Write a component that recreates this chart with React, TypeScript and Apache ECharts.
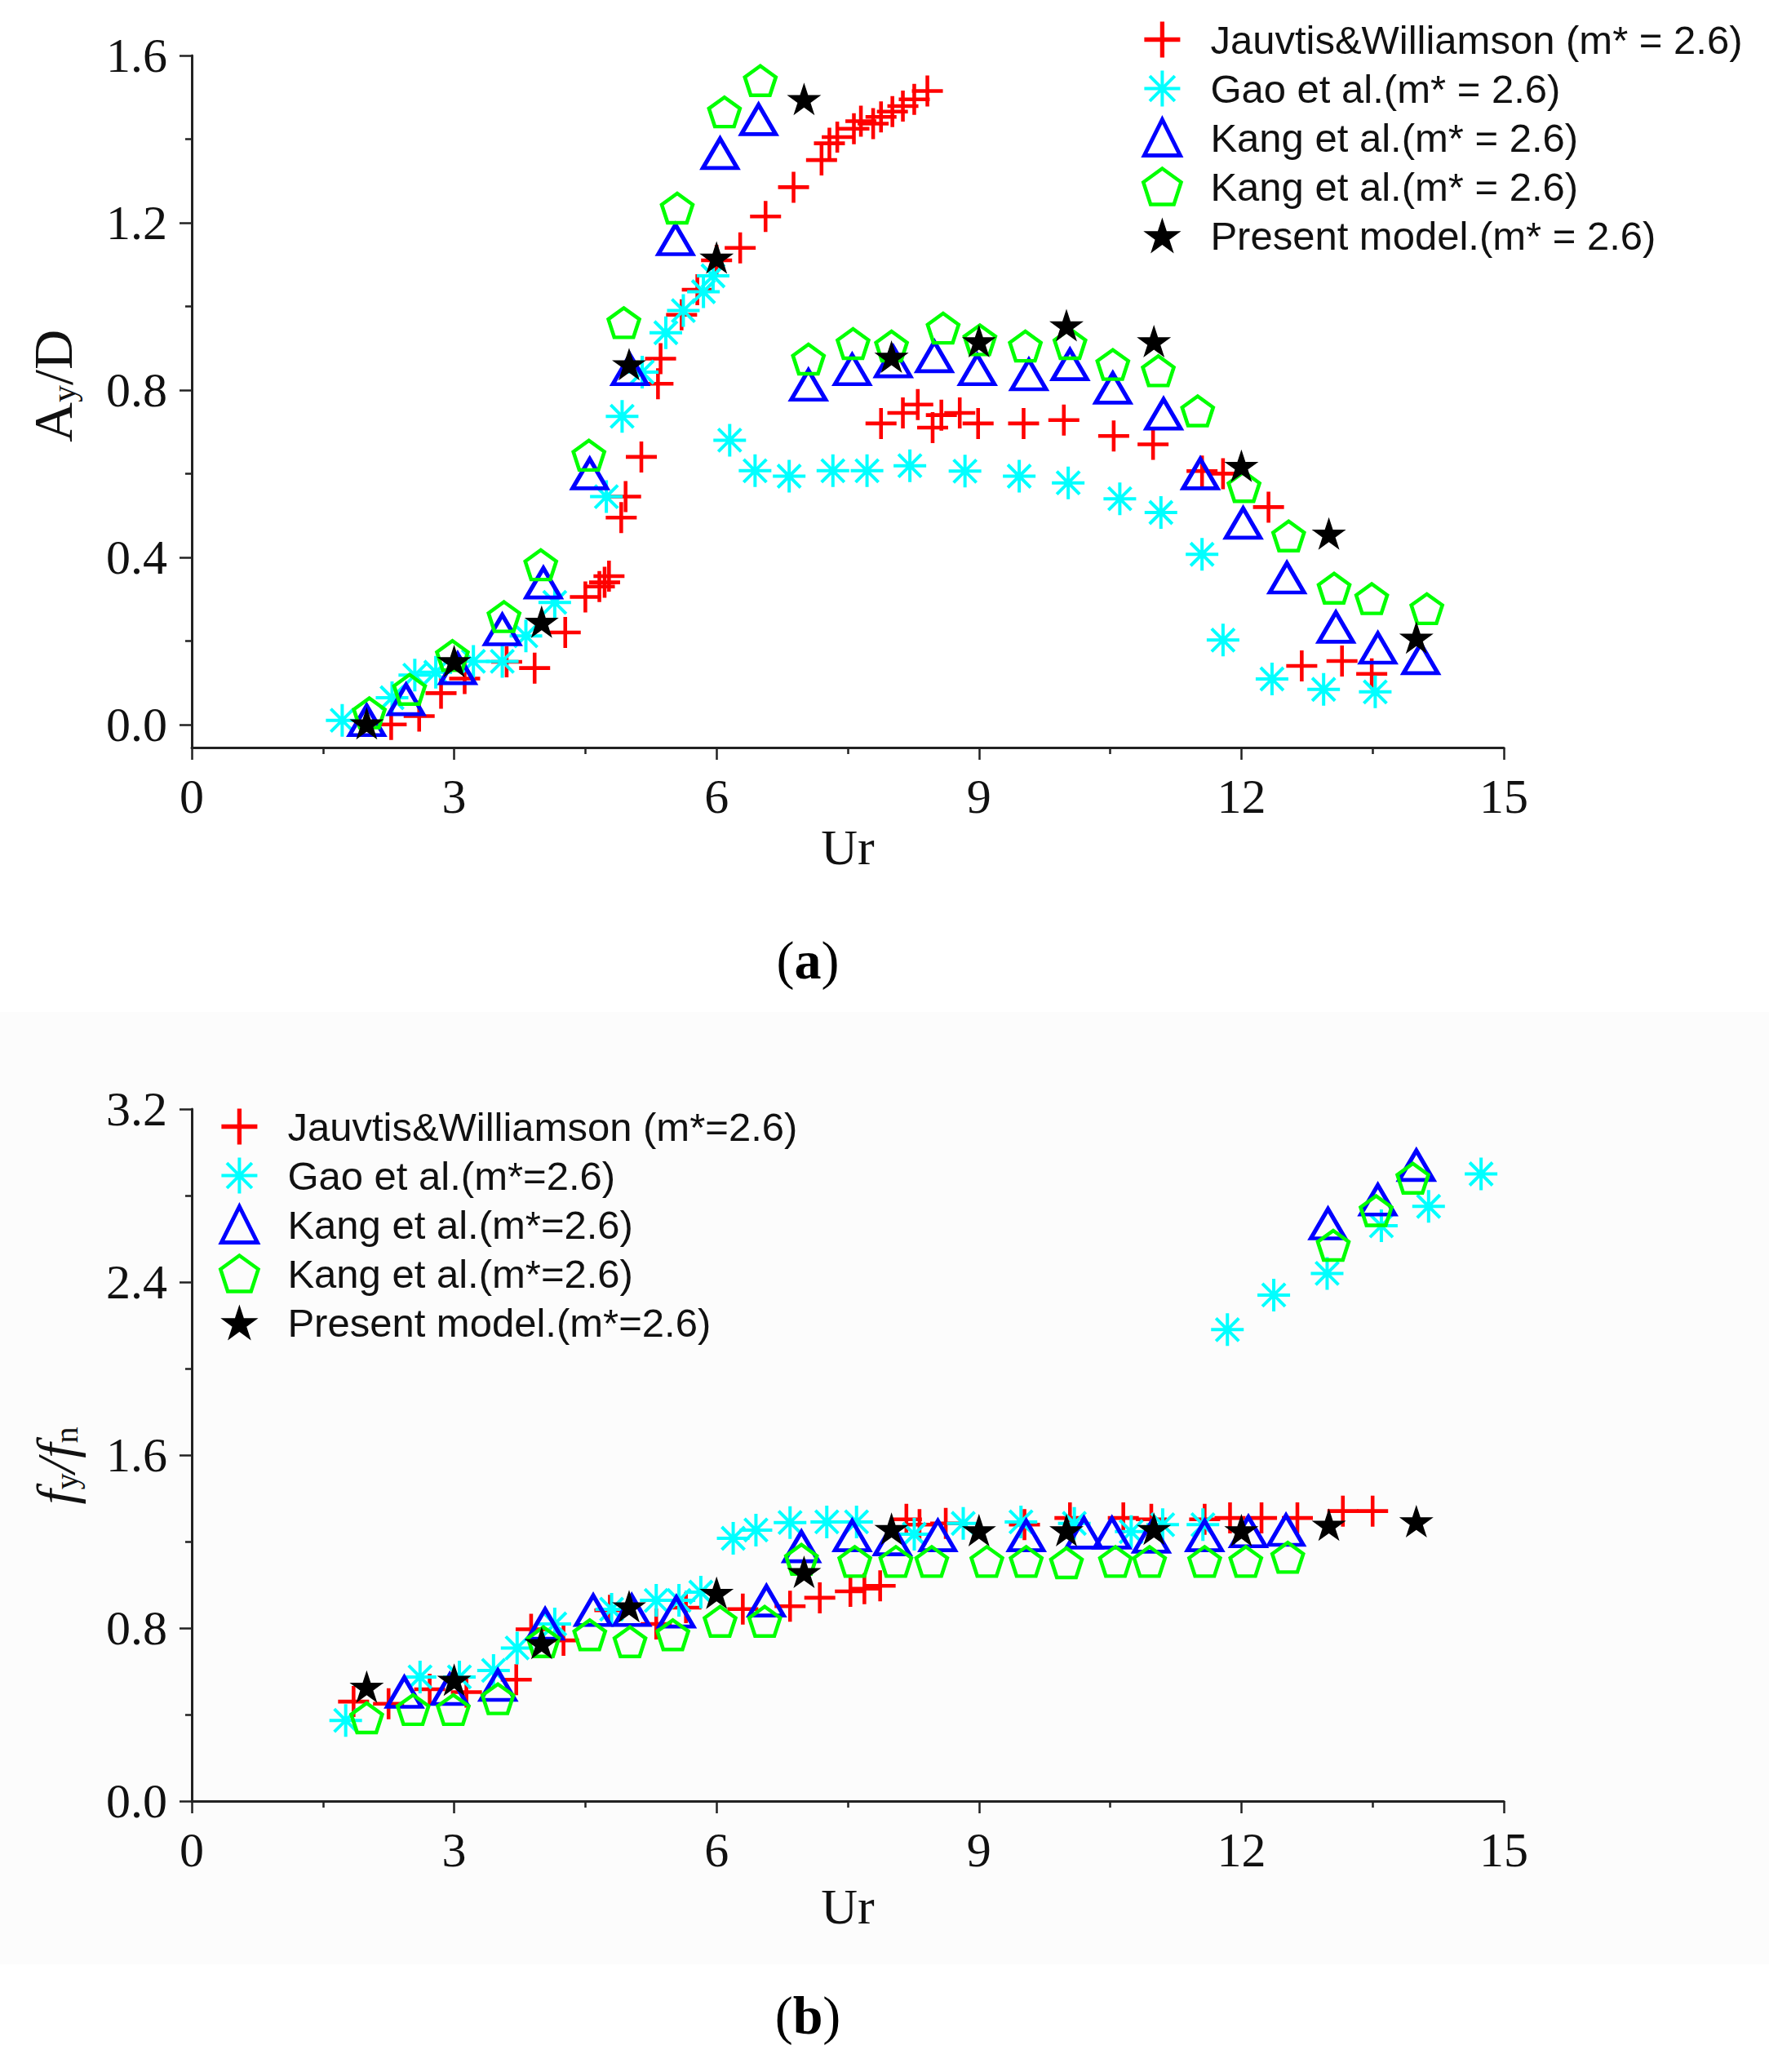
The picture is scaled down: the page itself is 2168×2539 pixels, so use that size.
import React, { useEffect, useRef } from 'react';
import * as echarts from 'echarts';

// ---- data ----
const ampLabels = [0, 0.4, 0.8, 1.2, 1.6];
const ampMinor = [0.2, 0.6, 1.0, 1.4];

const legendA = [
  'Jauvtis&Williamson (m* = 2.6)',
  'Gao et al.(m* = 2.6)',
  'Kang et al.(m* = 2.6)',
  'Kang et al.(m* = 2.6)',
  'Present model.(m* = 2.6)',
];
const legendB = [
  'Jauvtis&Williamson (m*=2.6)',
  'Gao et al.(m*=2.6)',
  'Kang et al.(m*=2.6)',
  'Kang et al.(m*=2.6)',
  'Present model.(m*=2.6)',
];

// (a) amplitude A_y/D vs Ur
const jwA = [
  [2.28, 0.0], [2.6, 0.02], [2.85, 0.075], [3.12, 0.11], [3.6, 0.15], [3.92, 0.135],
  [4.27, 0.22], [4.5, 0.305], [4.66, 0.33], [4.72, 0.34], [4.77, 0.355], [4.91, 0.495],
  [4.96, 0.545], [5.14, 0.64], [5.33, 0.815], [5.36, 0.875], [5.6, 0.98], [5.78, 1.04],
  [6.0, 1.11], [6.27, 1.14], [6.56, 1.215], [6.88, 1.285], [7.2, 1.35], [7.29, 1.39],
  [7.38, 1.405], [7.57, 1.425], [7.65, 1.443], [7.79, 1.437], [7.88, 1.453], [8.01, 1.466],
  [8.13, 1.479], [8.26, 1.495], [8.41, 1.515],
  [7.88, 0.72], [8.13, 0.745], [8.3, 0.765], [8.47, 0.71], [8.57, 0.74], [8.78, 0.745],
  [8.99, 0.72], [9.51, 0.72], [9.97, 0.728], [10.54, 0.69], [10.99, 0.67], [11.55, 0.606],
  [11.79, 0.6], [12.31, 0.52], [12.69, 0.14], [13.15, 0.152], [13.49, 0.121],
];
const gaoA = [
  [1.72, 0.01], [2.29, 0.064], [2.55, 0.118], [2.79, 0.125], [3.22, 0.151], [3.55, 0.151],
  [3.82, 0.212], [4.15, 0.292], [4.74, 0.545], [4.92, 0.737], [5.15, 0.843], [5.42, 0.937],
  [5.62, 0.99], [5.85, 1.035], [5.96, 1.073], [6.15, 0.68], [6.44, 0.607], [6.83, 0.594],
  [7.33, 0.607], [7.72, 0.607], [8.21, 0.619], [8.84, 0.606], [9.46, 0.594], [10.02, 0.578],
  [10.61, 0.54], [11.08, 0.507], [11.55, 0.407], [11.79, 0.202], [12.35, 0.109],
  [12.94, 0.084], [13.53, 0.078],
];
const kangTriA = [
  [2.0, 0.01], [2.45, 0.06], [3.04, 0.134], [3.55, 0.227], [4.02, 0.339], [4.55, 0.6],
  [5.01, 0.849], [5.53, 1.16], [6.04, 1.366], [6.48, 1.447], [7.05, 0.812], [7.55, 0.849],
  [8.02, 0.868], [8.49, 0.88], [8.98, 0.849], [9.57, 0.837], [10.04, 0.861], [10.53, 0.805],
  [11.11, 0.743], [11.53, 0.6], [12.02, 0.482], [12.52, 0.351], [13.08, 0.233],
  [13.56, 0.183], [14.05, 0.158],
];
const kangPentA = [
  [2.03, 0.028], [2.49, 0.084], [2.98, 0.165], [3.57, 0.258], [3.99, 0.382], [4.54, 0.644],
  [4.94, 0.961], [5.55, 1.235], [6.09, 1.465], [6.5, 1.54], [7.05, 0.874], [7.56, 0.911],
  [8.0, 0.905], [8.59, 0.948], [9.01, 0.92], [9.53, 0.905], [10.04, 0.911], [10.53, 0.861],
  [11.05, 0.846], [11.5, 0.75], [12.03, 0.569], [12.54, 0.451], [13.06, 0.326],
  [13.49, 0.301], [14.12, 0.277],
];
const presentA = [
  [2, 0.003], [3, 0.152], [4, 0.246], [5, 0.862], [6, 1.117], [7, 1.496], [8, 0.88],
  [9, 0.917], [10, 0.955], [11, 0.917], [12, 0.619], [13, 0.457], [14, 0.208],
];

// (b) frequency f_y/f_n vs Ur
const jwF = [
  [1.85, 0.46], [2.25, 0.45], [2.72, 0.517], [3.14, 0.504], [3.71, 0.561], [3.88, 0.794],
  [4.25, 0.743], [4.78, 0.882], [5.31, 0.819], [5.65, 0.894], [6.3, 0.888], [6.84, 0.901],
  [7.18, 0.94], [7.53, 0.97], [7.69, 0.982], [7.87, 0.995], [8.17, 1.303], [8.32, 1.278],
  [8.62, 1.284], [9.52, 1.278], [10.04, 1.309], [10.65, 1.309], [10.97, 1.303],
  [11.58, 1.303], [11.87, 1.309], [12.23, 1.309], [12.64, 1.309], [13.16, 1.341], [13.5, 1.341],
];
const gaoF = [
  [1.76, 0.373], [2.61, 0.574], [3.06, 0.574], [3.45, 0.604], [3.72, 0.708], [4.15, 0.819],
  [4.8, 0.887], [5.31, 0.928], [5.57, 0.928], [5.82, 0.966], [6.19, 1.215], [6.45, 1.253],
  [6.84, 1.288], [7.26, 1.291], [7.6, 1.291], [8.26, 1.234], [8.82, 1.284], [9.48, 1.291],
  [10.09, 1.284], [10.74, 1.246], [11.1, 1.278], [11.56, 1.278], [11.84, 2.18], [12.37, 2.34],
  [12.98, 2.44], [13.6, 2.66], [14.14, 2.75], [14.74, 2.9],
];
const kangTriF = [
  [2.43, 0.504], [2.95, 0.517], [3.5, 0.536], [4.04, 0.819], [4.59, 0.882], [5.03, 0.882],
  [5.54, 0.875], [6.57, 0.926], [6.97, 1.177], [7.55, 1.228], [8.01, 1.209], [8.53, 1.228],
  [9.54, 1.228], [10.2, 1.24], [10.52, 1.24], [10.97, 1.221], [11.58, 1.228], [12.08, 1.246],
  [12.51, 1.253], [12.99, 2.67], [13.56, 2.78], [14.0, 2.94],
];
const kangPentF = [
  [2.0, 0.385], [2.53, 0.423], [2.99, 0.423], [3.5, 0.473], [4.02, 0.737], [4.55, 0.769],
  [5.01, 0.737], [5.5, 0.769], [6.04, 0.831], [6.55, 0.831], [6.97, 1.118], [7.58, 1.108],
  [8.05, 1.108], [8.46, 1.108], [9.09, 1.108], [9.54, 1.108], [10.0, 1.102], [10.56, 1.108],
  [10.95, 1.108], [11.58, 1.108], [12.05, 1.108], [12.53, 1.127], [13.05, 2.57],
  [13.54, 2.73], [13.96, 2.88],
];
const presentF = [
  [2, 0.529], [3, 0.561], [4, 0.731], [5, 0.901], [6, 0.963], [7, 1.06], [8, 1.259],
  [9, 1.253], [10, 1.253], [11, 1.259], [12, 1.253], [13, 1.278], [14, 1.294],
];

// ---- styling ----
const SERIF = "'Liberation Serif', 'Times New Roman', serif";
const SANS = "'Liberation Sans', Arial, sans-serif";
const AXIS = '#222';

const PLUS = 'path://M0,0.44H1V0.56H0Z M0.44,0H0.56V1H0.44Z';
const AST = 'path://M0.5,0L0.5,1M0,0.5L1,0.5M0.15,0.15L0.85,0.85M0.85,0.15L0.15,0.85';
const TRI = 'path://M0,1L0.5,0L1,1Z';
const PENT = 'path://M0.5,0L0.976,0.345L0.794,0.905L0.206,0.905L0.024,0.345Z';
const STAR =
  'path://M1,0L1.2245,0.691L1.951,0.691L1.363,1.118L1.588,1.809L1,1.382L0.412,1.809L0.637,1.118L0.049,0.691L0.7755,0.691Z';

const marks = [
  { symbol: PLUS, size: [38, 38], style: { color: '#ff0000', borderWidth: 0, opacity: 1 } },
  { symbol: AST, size: [40, 40], style: { color: '#00ffff', borderColor: '#00ffff', borderWidth: 4, opacity: 1 } },
  { symbol: TRI, size: [42, 36], style: { color: 'rgba(0,0,0,0)', borderColor: '#0000ff', borderWidth: 5, opacity: 1 } },
  { symbol: PENT, size: [38, 36], style: { color: 'rgba(0,0,0,0)', borderColor: '#00ff00', borderWidth: 4.5, opacity: 1 } },
  { symbol: STAR, size: [42, 40], style: { color: '#000000', borderWidth: 0, opacity: 1 } },
];

const seriesA = [jwA, gaoA, kangTriA, kangPentA, presentA];
const seriesB = [jwF, gaoF, kangTriF, kangPentF, presentF];

const keysA = legendA.map((_, i) => 'a' + i);
const keysB = legendB.map((_, i) => 'b' + i);
const labelOf: Record<string, string> = {};
keysA.forEach((k, i) => (labelOf[k] = legendA[i]));
keysB.forEach((k, i) => (labelOf[k] = legendB[i]));

const tickLabel = { fontFamily: SERIF, fontSize: 60, color: '#111' };

const App: React.FC = () => {
  const chartRef = useRef<HTMLDivElement>(null);

  useEffect(() => {
    document.body.style.margin = '0';
    if (!chartRef.current) return;
    const chart = echarts.init(chartRef.current, null, { renderer: 'svg' });

    const makeSeries = (data: number[][][], keys: string[], grid: number) =>
      data.map((d, i) => ({
        name: keys[i],
        type: 'scatter',
        xAxisIndex: grid,
        yAxisIndex: grid === 0 ? 0 : 2,
        data: d,
        symbol: marks[i].symbol,
        symbolSize: marks[i].size,
        itemStyle: marks[i].style,
        silent: true,
        z: 3 + i,
      }));

    const makeLegend = (keys: string[], left: number, top: number) => ({
      orient: 'vertical',
      left,
      top,
      padding: 0,
      itemWidth: 96,
      itemHeight: 44,
      itemGap: 11,
      selectedMode: false,
      formatter: (name: string) => labelOf[name],
      textStyle: { fontFamily: SANS, fontSize: 49, color: '#111', lineHeight: 44, padding: [0, 0, 0, 6] },
      data: keys.map((k, i) => ({ name: k, icon: marks[i].symbol, itemStyle: marks[i].style })),
    });

    const xAxisBase = (grid: number, nameGap: number) => ({
      type: 'value',
      gridIndex: grid,
      min: 0,
      max: 15,
      interval: 3,
      name: 'Ur',
      nameLocation: 'middle',
      nameGap,
      nameTextStyle: { fontFamily: SERIF, fontSize: 62, color: '#111' },
      axisLine: { onZero: false, lineStyle: { color: AXIS, width: 3 } },
      axisTick: { length: 15, lineStyle: { color: AXIS, width: 2.5 } },
      minorTick: { show: true, splitNumber: 2, length: 8, lineStyle: { color: AXIS, width: 2.5 } },
      axisLabel: { ...tickLabel, margin: 30 },
      splitLine: { show: false },
    });

    const caption = (letter: string, y: number) => ({
      type: 'text',
      x: 990,
      y,
      style: {
        text: '({b|' + letter + '})',
        fontFamily: SERIF,
        fontSize: 66,
        fill: '#000',
        align: 'center',
        verticalAlign: 'middle',
        textAlign: 'center',
        textVerticalAlign: 'middle',
        rich: { b: { fontFamily: SERIF, fontSize: 66, fontWeight: 'bold' } },
      },
    });

    chart.setOption({
      animation: false,
      textStyle: { fontFamily: SERIF },
      graphic: [
        {
          type: 'rect',
          z: -1,
          shape: { x: 0, y: 1240, width: 2168, height: 1167 },
          style: { fill: '#fcfcfc' },
        },
        caption('a', 1176),
        caption('b', 2469),
      ],
      legend: [makeLegend(keysA, 1399, 24), makeLegend(keysB, 268, 1356)],
      grid: [
        { left: 235, top: 68, width: 1608, height: 848 },
        { left: 235, top: 1359, width: 1608, height: 848 },
      ],
      xAxis: [xAxisBase(0, 65), xAxisBase(1, 98)],
      yAxis: [
        {
          type: 'value',
          gridIndex: 0,
          position: 'left',
          min: -0.055,
          max: 1.6,
          name: '{n|A}{s|y}{n|/D}',
          nameLocation: 'middle',
          nameGap: 136,
          nameTextStyle: {
            fontFamily: SERIF,
            fontSize: 68,
            color: '#111',
            padding: [0, 0, 0, 38],
            rich: {
              n: { fontFamily: SERIF, fontSize: 68, lineHeight: 68, color: '#111' },
              s: { fontFamily: SERIF, fontSize: 42, lineHeight: 26, verticalAlign: 'bottom', color: '#111' },
            },
          },
          axisLine: { show: true, lineStyle: { color: AXIS, width: 3 } },
          axisTick: { show: true, length: 15, customValues: ampLabels, lineStyle: { color: AXIS, width: 2.5 } },
          axisLabel: {
            ...tickLabel,
            margin: 30,
            customValues: ampLabels,
            formatter: (v: number) => v.toFixed(1),
          },
          splitLine: { show: false },
        },
        {
          type: 'value',
          gridIndex: 0,
          position: 'left',
          min: -0.055,
          max: 1.6,
          axisLine: { show: false },
          axisTick: { show: true, length: 8, customValues: ampMinor, lineStyle: { color: AXIS, width: 2.5 } },
          axisLabel: { show: false },
          splitLine: { show: false },
        },
        {
          type: 'value',
          gridIndex: 1,
          position: 'left',
          min: 0,
          max: 3.2,
          interval: 0.8,
          name: '{i|f}{s|y}{i|/f}{s|n}',
          nameLocation: 'middle',
          nameGap: 134,
          nameTextStyle: {
            fontFamily: SERIF,
            fontSize: 66,
            color: '#111',
            padding: [0, 26, 0, 0],
            rich: {
              i: { fontFamily: SERIF, fontStyle: 'italic', fontSize: 66, lineHeight: 66, color: '#111' },
              s: { fontFamily: SERIF, fontSize: 40, lineHeight: 26, verticalAlign: 'bottom', color: '#111' },
            },
          },
          axisLine: { show: true, lineStyle: { color: AXIS, width: 3 } },
          axisTick: { length: 15, lineStyle: { color: AXIS, width: 2.5 } },
          minorTick: { show: true, splitNumber: 2, length: 8, lineStyle: { color: AXIS, width: 2.5 } },
          axisLabel: { ...tickLabel, margin: 30, formatter: (v: number) => v.toFixed(1) },
          splitLine: { show: false },
        },
      ],
      series: [...makeSeries(seriesA, keysA, 0), ...makeSeries(seriesB, keysB, 1)],
    });

    return () => {
      chart.dispose();
    };
  }, []);

  return <div ref={chartRef} style={{ width: '2168px', height: '2539px' }}></div>;
};

export default App;
